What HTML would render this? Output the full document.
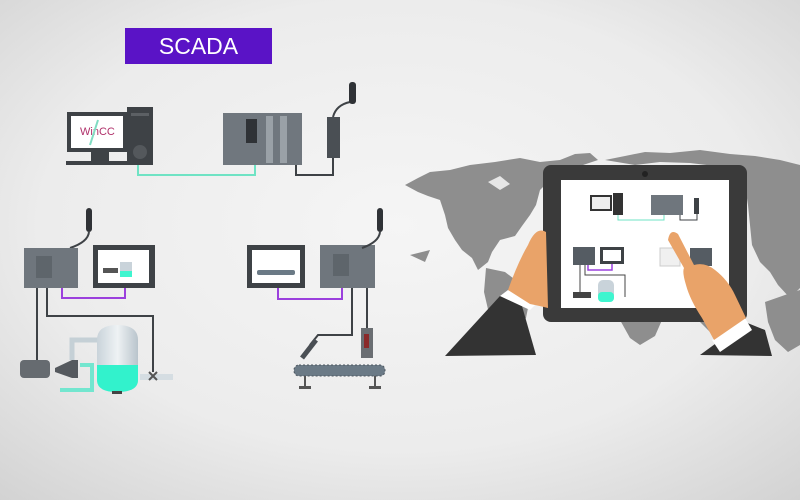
<!DOCTYPE html>
<html><head><meta charset="utf-8"><style>
html,body{margin:0;padding:0;width:800px;height:500px;overflow:hidden}
svg{display:block}
</style></head><body>
<svg width="800" height="500" viewBox="0 0 800 500" xmlns="http://www.w3.org/2000/svg" font-family="Liberation Sans, sans-serif">
<defs>
<radialGradient id="bg" cx="0.5" cy="0.45" r="0.75">
<stop offset="0" stop-color="#f5f5f5"/><stop offset="0.6" stop-color="#ececec"/><stop offset="1" stop-color="#d2d2d2"/>
</radialGradient>
<linearGradient id="tank" x1="0" x2="1"><stop offset="0" stop-color="#c9d3da"/><stop offset="0.5" stop-color="#eef2f4"/><stop offset="1" stop-color="#b9c4cc"/></linearGradient>
</defs>
<rect width="800" height="500" fill="url(#bg)"/>

<!-- world map -->
<g fill="#8e8e8e">
<path d="M405 185 L418 178 L430 172 L450 170 L470 165 L495 162 L520 158 L540 162 L560 160 L575 154 L590 153 L598 160 L580 166 L560 172 L548 182 L540 190 L536 205 L530 215 L522 226 L515 236 L500 240 L492 252 L488 262 L478 270 L472 258 L462 250 L455 240 L448 228 L445 215 L440 200 L428 196 L418 192 Z"/>
<path d="M486 268 L505 272 L518 282 L530 298 L526 318 L514 335 L502 355 L494 342 L490 318 L484 292 Z"/>
<path d="M605 160 L625 156 L645 152 L670 153 L700 150 L730 154 L755 156 L780 160 L800 165 L800 288 L790 298 L778 285 L770 272 L760 262 L752 245 L750 225 L748 205 L745 185 L735 172 L715 166 L690 163 L660 162 L635 165 Z"/>
<path d="M765 302 L785 295 L800 290 L800 345 L788 352 L775 340 L768 322 Z"/>
<path d="M620 320 L662 320 L655 336 L640 345 L630 338 Z"/>
<path d="M700 322 L742 322 L736 334 L716 338 Z"/>
<path d="M488 182 L500 176 L510 184 L500 190 Z" fill="#e6e6e6"/>
<path d="M410 255 L430 250 L425 262 Z"/>
</g>

<!-- SCADA label -->
<rect x="125" y="28" width="147" height="36" fill="#5a13c6"/>
<text x="198.5" y="54" text-anchor="middle" fill="#fff" font-size="23">SCADA</text>

<!-- PC -->
<rect x="67" y="112" width="60" height="40" fill="#3e4246"/>
<rect x="71" y="116" width="52" height="32" fill="#fff"/>
<text x="80" y="135" font-size="11" fill="#b0306a">WinCC</text>
<path d="M98 120 L90 145" stroke="#7fdcc2" stroke-width="2"/>
<rect x="91" y="152" width="18" height="9" fill="#3e4246"/>
<rect x="66" y="161" width="66" height="4" fill="#3e4246"/>
<rect x="127" y="107" width="26" height="58" fill="#3e4246"/>
<circle cx="140" cy="152" r="7" fill="#54585c"/>
<rect x="131" y="113" width="18" height="3" fill="#5c6064"/>
<path d="M138 165 V175 H255 V165" fill="none" stroke="#6fe3c4" stroke-width="2"/>

<!-- PLC rack -->
<rect x="223" y="113" width="79" height="52" fill="#70777e"/>
<rect x="246" y="119" width="11" height="24" fill="#2f3236"/>
<rect x="266" y="116" width="7" height="47" fill="#9aa1a7"/>
<rect x="280" y="116" width="7" height="47" fill="#9aa1a7"/>
<path d="M296 165 V175 H333 V158" fill="none" stroke="#3e4246" stroke-width="2"/>
<rect x="327" y="117" width="13" height="41" fill="#4a4f54"/>
<path d="M333 117 Q336 105 350 102" fill="none" stroke="#3e4246" stroke-width="2"/>
<rect x="349" y="82" width="7" height="22" rx="3" fill="#2f3236"/>

<!-- left PLC + HMI -->
<rect x="86" y="208" width="6" height="24" rx="3" fill="#2f3236"/>
<path d="M89 232 Q88 242 70 248" fill="none" stroke="#3e4246" stroke-width="2"/>
<rect x="24" y="248" width="54" height="40" fill="#6f767d"/>
<rect x="36" y="256" width="16" height="22" fill="#5e656b"/>
<rect x="93" y="245" width="62" height="43" fill="#3e4246"/>
<rect x="98" y="250" width="51" height="33" fill="#fff"/>
<rect x="120" y="262" width="12" height="14" fill="#c9d3da"/><rect x="120" y="271" width="12" height="6" fill="#3ff5cf"/>
<rect x="103" y="268" width="15" height="5" fill="#555"/>
<path d="M62 288 V298 H125 V288" fill="none" stroke="#9b40dd" stroke-width="2"/>
<path d="M37 288 V362" fill="none" stroke="#3e4246" stroke-width="2"/>
<path d="M47 288 V316 H153 V372" fill="none" stroke="#3e4246" stroke-width="2"/>
<!-- pump -->
<rect x="20" y="360" width="30" height="18" rx="4" fill="#666b70"/>
<path d="M55 368 L72 360 L78 360 L78 378 L72 378 L55 372 Z" fill="#55595e"/>
<path d="M72 360 V340 H100" fill="none" stroke="#c5d0d6" stroke-width="5"/>
<path d="M80 365 H92 V390 H60" fill="none" stroke="#73e6cf" stroke-width="4"/>
<!-- tank -->
<path d="M97 340 Q97 325 117 325 Q138 325 138 340 V380 Q138 392 117 392 Q97 392 97 380 Z" fill="url(#tank)"/>
<path d="M97 365 H138 V380 Q138 392 117 392 Q97 392 97 380 Z" fill="#32f2cc"/>
<rect x="112" y="391" width="10" height="3" fill="#444"/>
<rect x="140" y="374" width="33" height="6" fill="#d5dde2"/>
<path d="M149 372 L157 380 M157 372 L149 380" stroke="#555" stroke-width="2"/>

<!-- right HMI + PLC -->
<rect x="247" y="245" width="58" height="43" fill="#3e4246"/>
<rect x="252" y="250" width="48" height="33" fill="#fff"/>
<rect x="257" y="270" width="38" height="5" rx="2" fill="#6b7a86"/>
<rect x="320" y="245" width="55" height="43" fill="#6f767d"/>
<rect x="333" y="254" width="16" height="22" fill="#5e656b"/>
<rect x="377" y="208" width="6" height="24" rx="3" fill="#2f3236"/>
<path d="M380 232 Q379 242 362 248" fill="none" stroke="#3e4246" stroke-width="2"/>
<path d="M278 288 V299 H342 V288" fill="none" stroke="#9b40dd" stroke-width="2"/>
<path d="M352 288 V335 H318 L310 345" fill="none" stroke="#3e4246" stroke-width="2"/>
<path d="M367 288 V330" fill="none" stroke="#3e4246" stroke-width="2"/>
<path d="M316 340 L302 358" stroke="#4a4f54" stroke-width="5"/>
<rect x="361" y="328" width="12" height="30" fill="#6a6e72"/>
<rect x="364" y="334" width="5" height="14" fill="#8a2a2a"/>
<rect x="294" y="365" width="91" height="11" rx="5" fill="#6b7a86" stroke="#4b555e" stroke-width="1" stroke-dasharray="2 2"/>
<path d="M305 376 V388 M375 376 V388" stroke="#555" stroke-width="2"/>
<rect x="299" y="386" width="12" height="3" fill="#555"/><rect x="369" y="386" width="12" height="3" fill="#555"/>

<!-- tablet -->
<rect x="543" y="165" width="204" height="157" rx="8" fill="#3a3a3a"/>
<circle cx="645" cy="174" r="3" fill="#222"/>
<rect x="561" y="180" width="168" height="128" fill="#fff"/>
<rect x="590" y="195" width="22" height="16" fill="#333"/><rect x="592" y="197" width="18" height="12" fill="#ededed"/>
<rect x="613" y="193" width="10" height="22" fill="#333"/>
<path d="M618 215 V220 H664 V214" fill="none" stroke="#6fe3c4" stroke-width="1"/>
<rect x="651" y="195" width="32" height="20" fill="#6f767d"/>
<rect x="694" y="198" width="5" height="16" fill="#3e4246"/>
<path d="M680 215 V220 H697 V214" fill="none" stroke="#3e4246" stroke-width="1"/>
<rect x="573" y="247" width="22" height="18" fill="#555c63"/>
<rect x="600" y="247" width="24" height="17" fill="#3e4246"/><rect x="603" y="250" width="18" height="11" fill="#fff"/>
<path d="M588 265 V270 H612 V264" fill="none" stroke="#9b40dd" stroke-width="1.5"/>
<path d="M580 265 V295 M585 265 V275 H625 V297" fill="none" stroke="#444" stroke-width="1"/>
<rect x="598" y="280" width="16" height="22" rx="5" fill="#c9d3da"/><rect x="598" y="292" width="16" height="10" rx="4" fill="#3ff5cf"/>
<rect x="573" y="292" width="18" height="6" fill="#444"/>
<rect x="660" y="248" width="20" height="18" fill="#f0f0f0" stroke="#ccc"/>
<rect x="690" y="248" width="22" height="18" fill="#555c63"/>

<!-- left hand + suit -->
<path d="M445 356 L500 296 L522 306 L536 355 Z" fill="#333"/>
<path d="M500 296 L508 290 L540 300 L530 310 Z" fill="#fff"/>
<path d="M508 290 Q518 262 528 245 Q536 226 546 232 L548 308 Q540 306 530 304 Z" fill="#e9a369"/>
<!-- right hand + suit -->
<path d="M700 355 L745 322 L765 330 L772 356 Z" fill="#333"/>
<path d="M712 340 L745 318 L752 330 L720 352 Z" fill="#fff"/>
<path d="M668 240 Q670 228 678 234 L694 265 Q705 262 715 270 Q728 280 735 295 L746 318 L714 340 L702 318 Q690 300 686 285 Q682 272 684 268 Z" fill="#e9a369"/>
</svg>
</body></html>
